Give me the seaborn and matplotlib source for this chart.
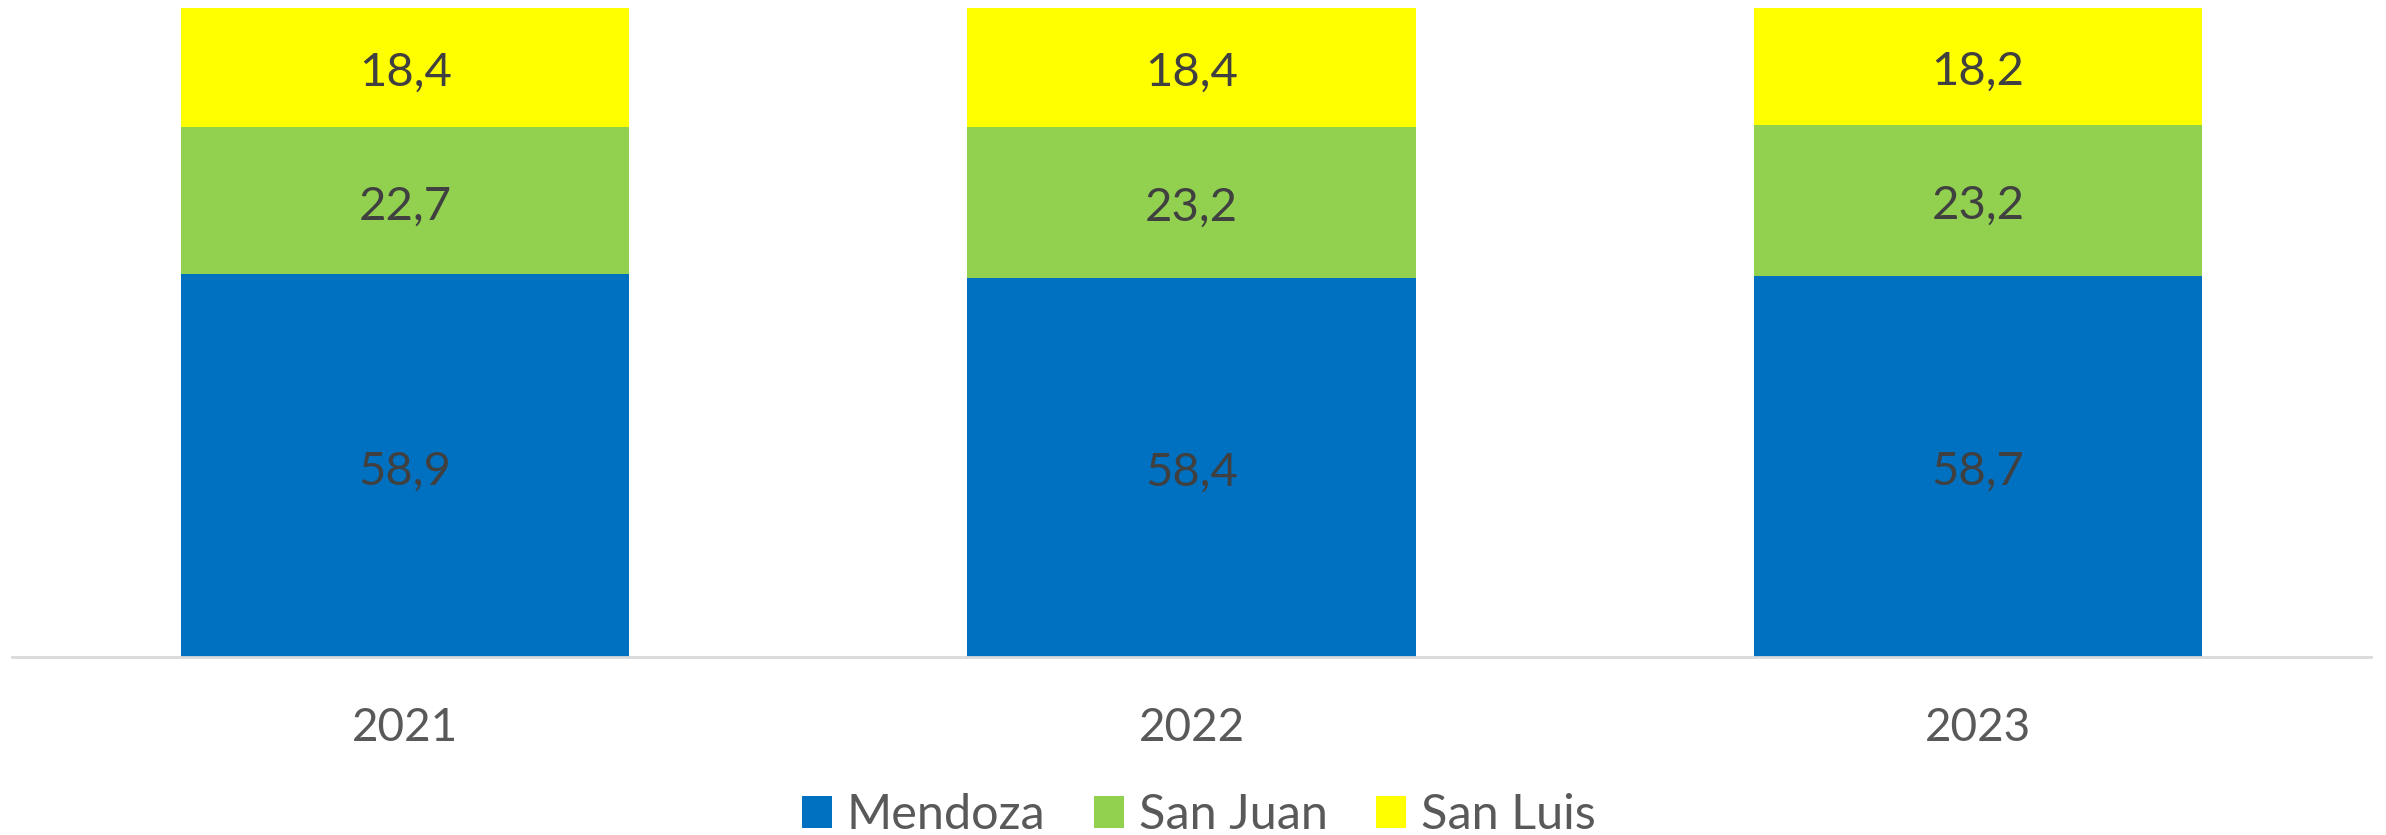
import matplotlib
matplotlib.use("Agg")
import matplotlib.pyplot as plt
import seaborn as sns
import pandas as pd
from matplotlib.patches import Patch

years = ["2021", "2022", "2023"]
series = ["Mendoza", "San Juan", "San Luis"]
mendoza = [58.9, 58.4, 58.7]
san_juan = [22.7, 23.2, 23.2]
san_luis = [18.4, 18.4, 18.2]
colors = ["#0070C0", "#92D050", "#FFFF00"]

sns.set_theme(style="white")
plt.rcParams["font.family"] = ["Lato", "DejaVu Sans"]

values = {"Mendoza": mendoza, "San Juan": san_juan, "San Luis": san_luis}
df = pd.DataFrame({"year": years, **values})

fig = plt.figure(figsize=(23.86, 8.35), dpi=100)
ax = fig.add_axes([12 / 2386, 1 - 657 / 835, 2359 / 2386, 649.5 / 835])

bottoms = [0.0] * len(years)
for name, col in zip(series, colors):
    sns.barplot(data=df, x="year", y=name, color=col, width=0.57,
                bottom=bottoms, ax=ax, saturation=1, linewidth=0)
    for i, (b, v) in enumerate(zip(bottoms, values[name])):
        ax.annotate(f"{v:.1f}".replace(".", ","), xy=(i, b + v / 2),
                    xytext=(0, -4), textcoords="offset points",
                    ha="center", va="center", fontsize=34, color="#404040")
    bottoms = [b + v for b, v in zip(bottoms, values[name])]

ax.set_xlim(-0.5, 2.5)
ax.set_ylim(0, 100)
ax.set_xlabel("")
ax.set_ylabel("")
ax.set_yticks([])
for s in ["top", "right", "left"]:
    ax.spines[s].set_visible(False)
ax.spines["bottom"].set_color("#D9D9D9")
ax.spines["bottom"].set_linewidth(2)
ax.tick_params(axis="x", length=0, pad=36, labelsize=33, labelcolor="#595959")

handles = [Patch(facecolor=c, edgecolor="none", label=n) for n, c in zip(series, colors)]
leg = fig.legend(handles=handles, loc="center", bbox_to_anchor=(1199 / 2386, 1 - 815 / 835),
                 ncol=3, frameon=False, fontsize=35, handlelength=0.62, handleheight=0.62,
                 handletextpad=0.3, columnspacing=1.0)
for t in leg.get_texts():
    t.set_color("#595959")

fig.savefig("out.png", dpi=100, facecolor="white")
